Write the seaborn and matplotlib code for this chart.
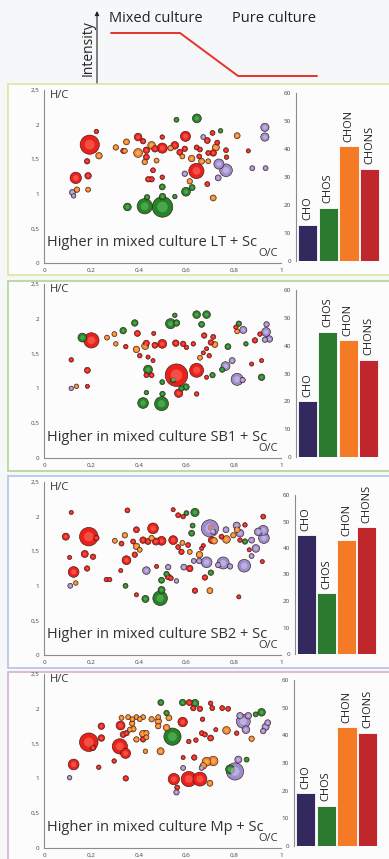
"""
Van Krevelen bubble plots (H/C vs O/C) of the compounds higher in mixed
culture, with the share of each elemental group as bars.
"""

import matplotlib
matplotlib.use("Agg")
import matplotlib.pyplot as plt
import pandas as pd
import seaborn as sns
from matplotlib.patches import Rectangle

W, H = 389, 859
OUTPUT_FILE = "out.png"

GROUPS = ["CHO", "CHOS", "CHON", "CHONS"]
CODES = {"P": "CHO", "G": "CHOS", "O": "CHON", "R": "CHONS"}
BUBBLE_COLORS = {"CHO": "#9d8cce", "CHOS": "#23842a", "CHON": "#f28529", "CHONS": "#e9201b"}
SHINE_COLORS = {"CHO": "#d6ccf2", "CHOS": "#6cc26a", "CHON": "#ffc27e", "CHONS": "#ff7565"}
BAR_COLORS = {"CHO": "#33295f", "CHOS": "#2b7a30", "CHON": "#f47a25", "CHONS": "#bf272c"}

X_TICKS = [0, 0.2, 0.4, 0.6, 0.8, 1]
X_LABELS = ["0", "0,2", "0,4", "0,6", "0,8", "1"]
Y_TICKS = [0, 0.5, 1, 1.5, 2, 2.5]
Y_LABELS = ["0", "0,5", "1", "1,5", "2", "2,5"]
BAR_TICKS = [0, 10, 20, 30, 40, 50, 60]

# header schematic: intensity in mixed vs pure culture
profile_x = [0, 0.335, 0.617, 1.0]
profile_y = [1, 1, 0, 0]

# ---- LT + Sc ----
oc_lt = [0.193, 0.221, 0.232, 0.182, 0.134, 0.186, 0.139, 0.120, 0.125, 0.186,
         0.303, 0.334, 0.348, 0.397, 0.397, 0.432, 0.454, 0.468, 0.432, 0.425,
         0.460, 0.418, 0.499, 0.499, 0.475, 0.440, 0.454, 0.534, 0.552, 0.573,
         0.559, 0.645, 0.597, 0.623, 0.643, 0.594, 0.658, 0.594, 0.615, 0.689,
         0.599, 0.625, 0.552, 0.499, 0.499, 0.352, 0.425, 0.500, 0.500, 0.435,
         0.714, 0.738, 0.768, 0.735, 0.932, 0.932, 0.879, 0.935, 0.862, 0.815,
         0.725, 0.714, 0.689, 0.711, 0.745, 0.731, 0.665, 0.693, 0.768, 0.770,
         0.672, 0.644, 0.584, 0.655, 0.693, 0.341]
hc_lt = [1.71, 1.90, 1.55, 1.47, 1.23, 1.26, 1.06, 1.02, 0.97, 1.06,
         1.67, 1.62, 1.75, 1.82, 1.59, 1.63, 1.70, 1.65, 1.53, 1.46,
         1.34, 1.76, 1.66, 1.82, 1.48, 1.21, 1.21, 1.66, 1.70, 1.60,
         2.07, 2.09, 1.83, 1.51, 1.33, 1.65, 1.64, 1.29, 1.18, 1.14,
         1.03, 1.09, 0.96, 1.10, 1.24, 0.81, 0.82, 0.81, 0.96, 0.95,
         0.94, 1.43, 1.34, 1.23, 1.96, 1.82, 1.37, 1.37, 1.62, 1.84,
         1.67, 1.59, 1.77, 1.88, 1.91, 1.74, 1.47, 1.47, 1.63, 1.53,
         1.82, 1.67, 1.54, 1.54, 1.59, 1.62]
size_lt = [28, 4, 8, 6, 16, 8, 6, 7, 4, 5,
           6, 5, 7, 10, 12, 8, 10, 8, 7, 6,
           5, 6, 14, 4, 5, 6, 6, 6, 10, 7,
           5, 12, 14, 8, 22, 6, 5, 6, 6, 5,
           12, 7, 4, 7, 4, 10, 22, 30, 8, 6,
           7, 14, 18, 7, 11, 11, 5, 5, 3, 7,
           9, 8, 7, 5, 4, 5, 7, 5, 5, 4,
           5, 5, 5, 5, 5, 5]
group_lt = list("RRORRROPPO" "ORORORORRO" "RRRRORRORR" "GGRORRRPOR"
                "GGGGRGGGGG" "OPPPPPPPRO" "ORRRGROORR" "PRORRO")

# ---- SB1 + Sc ----
oc_sb1 = [0.200, 0.162, 0.115, 0.183, 0.137, 0.115, 0.183, 0.266, 0.297, 0.303,
          0.334, 0.345, 0.383, 0.394, 0.463, 0.390, 0.432, 0.427, 0.468, 0.404,
          0.439, 0.460, 0.499, 0.534, 0.559, 0.556, 0.587, 0.601, 0.630, 0.644,
          0.686, 0.552, 0.665, 0.714, 0.676, 0.721, 0.704, 0.776, 0.658, 0.697,
          0.672, 0.686, 0.439, 0.432, 0.454, 0.559, 0.644, 0.545, 0.499, 0.599,
          0.580, 0.568, 0.644, 0.500, 0.432, 0.418, 0.496, 0.711, 0.686, 0.752,
          0.766, 0.794, 0.815, 0.838, 0.918, 0.876, 0.918, 0.852, 0.841, 0.815,
          0.810, 0.822, 0.890, 0.937, 0.939, 0.951, 0.932, 0.911]
hc_sb1 = [1.69, 1.73, 1.41, 1.26, 1.03, 1.00, 1.03, 1.73, 1.78, 1.64,
          1.83, 1.60, 1.94, 1.79, 1.79, 1.56, 1.65, 1.61, 1.62, 1.47,
          1.45, 1.40, 1.64, 1.93, 1.94, 1.65, 1.64, 1.59, 1.64, 2.06,
          2.06, 2.05, 1.92, 1.74, 1.76, 1.63, 1.66, 1.60, 1.44, 1.47,
          1.51, 1.57, 1.27, 1.19, 1.19, 1.19, 1.26, 1.12, 1.09, 1.02,
          1.00, 0.93, 0.92, 0.92, 0.94, 0.79, 0.78, 1.19, 1.16, 1.27,
          1.32, 1.40, 1.13, 1.12, 1.16, 1.35, 1.40, 1.64, 1.84, 1.82,
          1.88, 1.93, 1.69, 1.81, 1.92, 1.71, 1.70, 1.78]
size_sb1 = [22, 12, 4, 7, 4, 4, 3, 5, 5, 4,
            8, 4, 8, 7, 3, 8, 7, 9, 7, 4,
            3, 3, 12, 14, 8, 8, 6, 4, 4, 10,
            10, 4, 7, 5, 6, 7, 6, 7, 5, 4,
            3, 3, 12, 5, 5, 33, 20, 6, 5, 8,
            6, 11, 4, 6, 4, 15, 20, 6, 3, 6,
            12, 7, 17, 6, 8, 3, 3, 4, 9, 5,
            4, 6, 6, 12, 6, 8, 6, 4]
group_sb1 = list("RGRROPROOO" "GRGRRORORR" "RRRGGRRRRG" "GGGRRORGOR"
                 "RRGRRRRGGG" "GRRGGGGGRG" "PPPPGRRGPO" "RGRPPPPR")

# ---- SB2 + Sc ----
oc_sb2 = [0.092, 0.189, 0.221, 0.115, 0.172, 0.207, 0.108, 0.125, 0.182, 0.134,
          0.111, 0.352, 0.460, 0.390, 0.299, 0.327, 0.341, 0.418, 0.390, 0.439,
          0.454, 0.472, 0.496, 0.376, 0.404, 0.383, 0.348, 0.324, 0.263, 0.277,
          0.545, 0.580, 0.566, 0.584, 0.545, 0.601, 0.637, 0.566, 0.587, 0.623,
          0.627, 0.615, 0.608, 0.700, 0.704, 0.714, 0.655, 0.632, 0.656, 0.707,
          0.718, 0.665, 0.672, 0.686, 0.756, 0.845, 0.735, 0.785, 0.704, 0.679,
          0.700, 0.637, 0.517, 0.496, 0.524, 0.535, 0.559, 0.496, 0.490, 0.428,
          0.390, 0.432, 0.475, 0.344, 0.524, 0.590, 0.615, 0.768, 0.770, 0.749,
          0.813, 0.815, 0.848, 0.799, 0.827, 0.848, 0.827, 0.904, 0.925, 0.928,
          0.894, 0.876, 0.925, 0.876, 0.921, 0.822, 0.866]
hc_sb2 = [1.71, 1.71, 1.69, 2.06, 1.46, 1.42, 1.41, 1.20, 1.25, 1.04,
          1.00, 2.09, 1.83, 1.81, 1.65, 1.61, 1.73, 1.66, 1.57, 1.64,
          1.69, 1.64, 1.65, 1.64, 1.52, 1.45, 1.37, 1.22, 1.09, 1.09,
          1.66, 1.49, 1.56, 1.62, 2.10, 2.05, 2.06, 2.02, 2.00, 1.76,
          1.87, 1.49, 1.59, 1.83, 1.84, 1.78, 1.36, 1.36, 1.45, 1.66,
          1.65, 1.54, 1.58, 1.34, 1.33, 1.29, 1.30, 1.28, 1.19, 1.12,
          0.93, 0.93, 1.17, 1.08, 1.13, 1.11, 1.07, 0.94, 0.82, 0.81,
          0.87, 1.22, 1.28, 1.00, 1.27, 1.27, 1.25, 1.81, 1.67, 1.71,
          1.87, 1.81, 1.88, 1.73, 1.76, 1.64, 1.66, 1.78, 1.80, 1.69,
          1.54, 1.66, 2.00, 1.43, 1.35, 0.84, 1.52]
size_sb2 = [9, 27, 6, 3, 9, 6, 3, 15, 6, 4,
            5, 5, 15, 7, 5, 5, 6, 8, 8, 7,
            6, 9, 12, 5, 5, 6, 12, 3, 4, 4,
            12, 6, 5, 5, 3, 5, 11, 5, 4, 7,
            5, 5, 5, 25, 6, 6, 6, 5, 8, 8,
            8, 3, 3, 15, 17, 18, 6, 6, 6, 6,
            7, 6, 6, 7, 7, 5, 4, 9, 21, 9,
            3, 10, 3, 5, 6, 7, 8, 7, 10, 5,
            9, 7, 4, 6, 10, 6, 4, 10, 14, 15,
            10, 7, 5, 5, 3, 3, 3]
group_sb2 = list("RRRRRRRRRO" "PRRROROROR" "ORRRORRRRR"
                 "RRRORGGRRG" "GORPRPPPOR" "ORRPPPPPGR" "ORGGRRPGGG"
                 "RPRGPPRPOR" "POROPGRPPP" "PPRPRRR")

# ---- Mp + Sc ----
oc_mp = [0.125, 0.108, 0.189, 0.207, 0.242, 0.242, 0.231, 0.296, 0.323, 0.320,
         0.344, 0.334, 0.348, 0.345, 0.327, 0.355, 0.373, 0.390, 0.404, 0.418,
         0.454, 0.482, 0.372, 0.376, 0.362, 0.418, 0.432, 0.390, 0.418, 0.432,
         0.428, 0.492, 0.482, 0.482, 0.493, 0.517, 0.527, 0.517, 0.542, 0.585,
         0.585, 0.613, 0.637, 0.630, 0.658, 0.703, 0.710, 0.752, 0.777, 0.611,
         0.641, 0.666, 0.679, 0.703, 0.770, 0.669, 0.725, 0.714, 0.686, 0.672,
         0.634, 0.587, 0.587, 0.548, 0.611, 0.658, 0.700, 0.562, 0.559, 0.665,
         0.820, 0.806, 0.785, 0.855, 0.841, 0.852, 0.862, 0.827, 0.893, 0.918,
         0.935, 0.925, 0.944, 0.876, 0.813]
hc_mp = [1.20, 1.01, 1.52, 1.44, 1.75, 1.58, 1.16, 1.25, 1.76, 1.46,
         1.36, 1.63, 1.65, 1.00, 1.87, 1.88, 1.85, 1.88, 1.85, 1.88,
         1.85, 1.88, 1.79, 1.71, 1.70, 1.64, 1.65, 1.56, 1.56, 1.59,
         1.39, 1.39, 1.82, 1.75, 2.09, 1.73, 1.87, 1.94, 1.60, 1.81,
         2.09, 2.09, 2.08, 2.01, 2.00, 2.08, 2.01, 2.01, 2.00, 1.53,
         1.55, 1.65, 1.63, 1.58, 1.69, 1.85, 1.70, 1.25, 1.24, 1.18,
         1.30, 1.30, 1.15, 0.99, 0.99, 0.99, 0.93, 0.87, 0.80, 1.15,
         1.27, 1.10, 1.13, 1.27, 1.82, 1.70, 1.90, 1.90, 1.92, 1.95,
         1.74, 1.68, 1.80, 1.57, 1.65]
size_mp = [15, 4, 27, 6, 8, 8, 4, 4, 12, 22,
           14, 7, 6, 6, 5, 5, 5, 5, 5, 5,
           6, 5, 6, 7, 5, 9, 6, 6, 6, 5,
           4, 9, 8, 6, 7, 8, 7, 6, 25, 13,
           8, 7, 10, 6, 6, 4, 5, 5, 5, 4,
           4, 5, 5, 7, 10, 4, 3, 13, 12, 8,
           6, 3, 5, 16, 22, 20, 7, 5, 6, 5,
           9, 25, 12, 5, 20, 10, 8, 8, 5, 10,
           9, 6, 7, 6, 4]
group_mp = list("RPRRRRRRRR" "RRRROOOOOO" "OOOOOOOORO" "OOOOGOOGGR"
                "GRGRRRRRRR" "RRRRORROOO" "RRPRRRORPP" "PPGGPPPPGG"
                "PPPOR")

bars_lt = [13, 19, 41, 33]
bars_sb1 = [20, 45, 42, 35]
bars_sb2 = [45, 23, 43, 48]
bars_mp = [19, 14.5, 43, 41]

PANELS = [
    ("LT + Sc", oc_lt, hc_lt, size_lt, group_lt, bars_lt),
    ("SB1 + Sc", oc_sb1, hc_sb1, size_sb1, group_sb1, bars_sb1),
    ("SB2 + Sc", oc_sb2, hc_sb2, size_sb2, group_sb2, bars_sb2),
    ("Mp + Sc", oc_mp, hc_mp, size_mp, group_mp, bars_mp),
]

# layout in pixels: frame top/bottom, frame colour, scatter top/bottom, bar box
LAYOUT = [
    dict(frame=(84, 275), edge="#dfe59c", sc=(90, 263), bar=(296, 93, 380, 261)),
    dict(frame=(281, 471), edge="#b3d296", sc=(284, 458), bar=(296, 290, 379, 457)),
    dict(frame=(476, 668), edge="#b5c2df", sc=(482, 655), bar=(295, 495, 377, 654)),
    dict(frame=(672, 866), edge="#d6b0d0", sc=(674, 848), bar=(294, 680, 378, 846)),
]


def px_axes(fig, left, top, right, bottom):
    return fig.add_axes([left / W, 1 - bottom / H, (right - left) / W, (bottom - top) / H])


def style_axis(ax):
    for side in ("left", "bottom"):
        ax.spines[side].set_color("#8c8c8c")
        ax.spines[side].set_linewidth(0.8)
    ax.tick_params(direction="out", length=2, width=0.6, labelsize=4.5,
                   colors="#8c8c8c", labelcolor="#444444", pad=1.5)
    ax.patch.set_alpha(0)


def draw_header(bg, fig):
    bg.annotate("", xy=(97, 11), xytext=(97, 83),
                arrowprops=dict(arrowstyle="-|>", lw=0.8, color="#222222",
                                mutation_scale=6, shrinkA=0, shrinkB=0))
    bg.text(88, 48, "Intensity", rotation=90, ha="center", va="center", fontsize=10,
            color="#222222")
    bg.text(109, 19, "Mixed culture", ha="left", va="center", fontsize=10.5, color="#222222")
    bg.text(232, 19, "Pure culture", ha="left", va="center", fontsize=10.5, color="#222222")
    hax = px_axes(fig, 111, 33, 317, 76)
    hax.plot(profile_x, profile_y, color="#e8322b", lw=1.4, clip_on=False)
    hax.set_xlim(0, 1)
    hax.set_ylim(0, 1)
    hax.axis("off")


def draw_panel(fig, bg, name, oc, hc, size, group, bars, lay):
    top, bottom = lay["frame"]
    bg.add_patch(Rectangle((8, top), 400, bottom - top, facecolor="#fcfcfd",
                           edgecolor=lay["edge"], lw=1.2, zorder=1))

    df = pd.DataFrame({"oc": oc, "hc": hc, "size": size,
                       "group": [CODES[g] for g in group]})
    df["intensity"] = df["size"] ** 2
    df = df.sort_values("intensity", ascending=False)

    ax = px_axes(fig, 44, lay["sc"][0], 281, lay["sc"][1])
    sns.scatterplot(data=df, x="oc", y="hc", hue="group", palette=BUBBLE_COLORS,
                    size="intensity", sizes=(7, 262), size_norm=(0, 1089),
                    edgecolor="#3a1c12", linewidth=0.45, legend=False, ax=ax)
    # soft highlight to give the bubbles a spherical look
    sns.scatterplot(data=df, x="oc", y="hc", hue="group", palette=SHINE_COLORS,
                    size="intensity", sizes=(1, 70), size_norm=(0, 1089),
                    linewidth=0, alpha=0.55, legend=False, ax=ax)
    ax.set_xlim(0, 1)
    ax.set_ylim(0, 2.5)
    ax.set_xticks(X_TICKS, X_LABELS)
    ax.set_yticks(Y_TICKS, Y_LABELS)
    ax.set_xlabel("")
    ax.set_ylabel("")
    sns.despine(ax=ax)
    style_axis(ax)
    ax.text(0.025, 2.42, "H/C", fontsize=8, ha="left", va="center", color="#333333")
    ax.text(0.945, 0.14, "O/C", fontsize=8, ha="center", va="center", color="#333333")
    ax.text(0.012, 0.30, "Higher in mixed culture " + name, fontsize=10.5,
            ha="left", va="center", color="#333333")

    bax = px_axes(fig, *lay["bar"])
    sns.barplot(x=GROUPS, y=bars, hue=GROUPS, palette=BAR_COLORS, width=0.94,
                saturation=1, edgecolor="white", linewidth=0.6, legend=False, ax=bax)
    bax.set_xlim(-0.56, 3.5)
    bax.set_ylim(0, 60)
    bax.set_yticks(BAR_TICKS)
    bax.set_xticks([])
    bax.set_xlabel("")
    sns.despine(ax=bax, bottom=True)
    style_axis(bax)
    for i, (label, value) in enumerate(zip(GROUPS, bars)):
        bax.text(i, value + 1.6, label, rotation=90, ha="center", va="bottom",
                 fontsize=8, color="#222222")


def main():
    sns.set_theme(style="white")
    plt.rcParams["font.family"] = ["Open Sans", "DejaVu Sans"]

    fig = plt.figure(figsize=(W / 100, H / 100), dpi=100, facecolor="#f6f7f8")
    bg = fig.add_axes([0, 0, 1, 1])
    bg.set_xlim(0, W)
    bg.set_ylim(H, 0)
    bg.axis("off")

    draw_header(bg, fig)
    for panel, lay in zip(PANELS, LAYOUT):
        draw_panel(fig, bg, *panel, lay)

    fig.savefig(OUTPUT_FILE, dpi=100, facecolor=fig.get_facecolor())
    plt.close(fig)


if __name__ == "__main__":
    main()
